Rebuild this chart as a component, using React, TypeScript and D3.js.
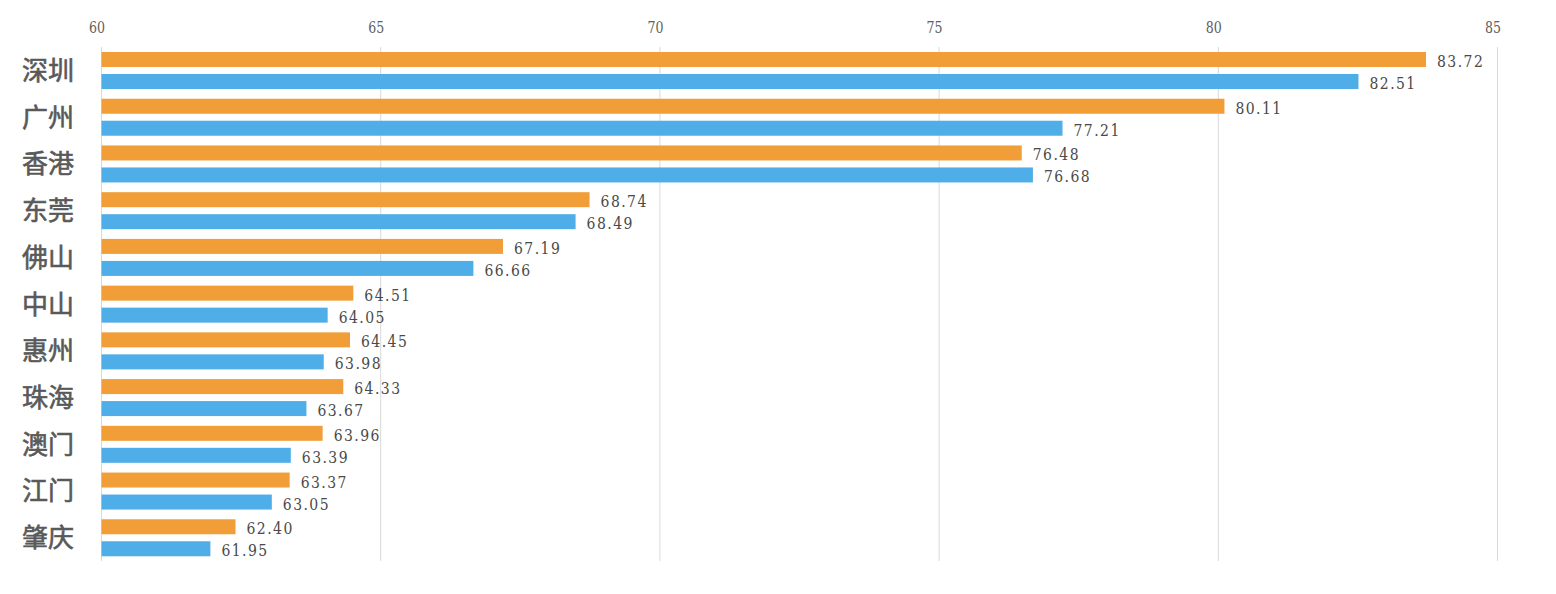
import React, { useEffect } from "react";
import * as d3 from "d3";

const cities = ["深圳", "广州", "香港", "东莞", "佛山", "中山", "惠州", "珠海", "澳门", "江门", "肇庆"];
const seriesOrange = [83.72, 80.11, 76.48, 68.74, 67.19, 64.51, 64.45, 64.33, 63.96, 63.37, 62.4];
const seriesBlue = [82.51, 77.21, 76.68, 68.49, 66.66, 64.05, 63.98, 63.67, 63.39, 63.05, 61.95];
const xTicks = [60, 65, 70, 75, 80, 85];
const seriesKeys = ["orange", "blue"];

const W = 1556;
const H = 594;
const COLORS: Record<string, string> = { orange: "#F19E38", blue: "#4FADE8" };
const NUM_FONT = "'DejaVu Serif', 'Liberation Serif', serif";

export default function App() {
  useEffect(() => {
    document.body.style.margin = "0";
    document.body.style.overflow = "hidden";
  }, []);

  const x = d3.scaleLinear().domain([60, 85]).range([101.5, 1497.5]);
  const y = d3.scaleBand<string>().domain(cities).range([47, 561]).paddingInner(0);
  const inner = d3.scaleBand<string>().domain(seriesKeys).range([5, 42]).paddingInner(7 / 22);

  const rows = cities.map((c, i) => ({
    city: c,
    vals: [
      { key: "orange", v: seriesOrange[i] },
      { key: "blue", v: seriesBlue[i] },
    ],
  }));

  return (
    <svg width={W} height={H} style={{ display: "block", background: "#fff" }}>
      {xTicks.map((t) => (
        <g key={t}>
          <line x1={x(t)} x2={x(t)} y1={47} y2={561} stroke="#d9d9d9" strokeWidth={1} />
          <text
            x={x(t) - 12.5}
            y={33}
            style={{ fontFamily: NUM_FONT }}
            fontSize={17}
            textLength={16}
            lengthAdjust="spacingAndGlyphs"
            fill="#606060"
          >
            {t}
          </text>
        </g>
      ))}
      {rows.map((r) => {
        const y0 = y(r.city)!;
        return (
          <g key={r.city}>
            <text
              x={74}
              y={y0 + y.bandwidth() / 2 + 9.5}
              textAnchor="end"
              style={{ fontFamily: "'Noto Sans CJK SC', sans-serif" }}
              fontSize={26}
              fill="#595959"
              stroke="#595959"
              strokeWidth={0.6}
            >
              {r.city}
            </text>
            {r.vals.map((d) => {
              const by = y0 + inner(d.key)!;
              const tx = x(d.v) + 11;
              const ty = by + inner.bandwidth() / 2 + 7.5;
              return (
                <g key={d.key}>
                  <rect
                    x={x(60)}
                    y={by}
                    width={x(d.v) - x(60)}
                    height={inner.bandwidth()}
                    fill={COLORS[d.key]}
                  />
                  <text
                    transform={`translate(${tx},${ty}) scale(0.8,1)`}
                    style={{ fontFamily: NUM_FONT, letterSpacing: "1.8px" }}
                    fontSize={17.5}
                    fill="#4a4a4a"
                  >
                    {d.v.toFixed(2)}
                  </text>
                </g>
              );
            })}
          </g>
        );
      })}
    </svg>
  );
}
